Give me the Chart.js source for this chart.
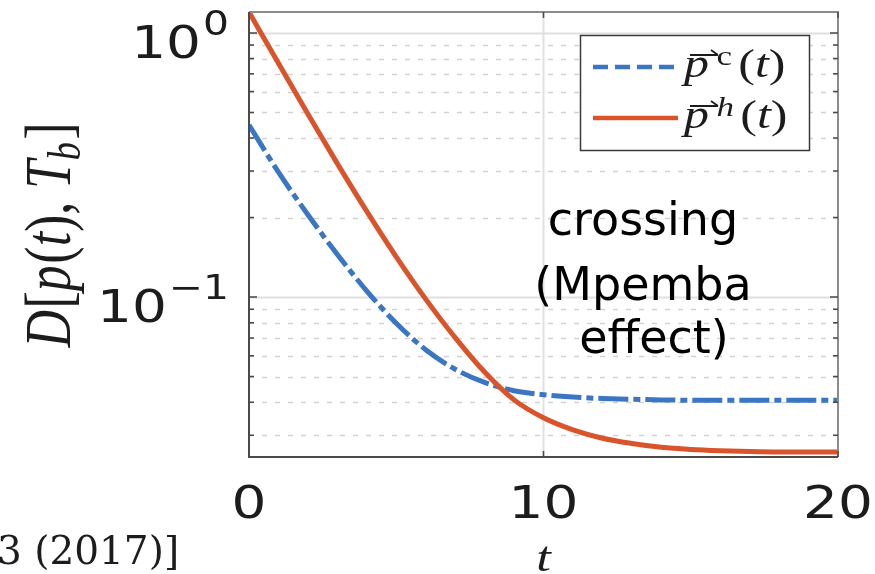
<!DOCTYPE html>
<html>
<head>
<meta charset="utf-8">
<script src="https://cdn.jsdelivr.net/npm/chart.js@4.4.1/dist/chart.umd.min.js"></script>
<style>
  html, body { margin: 0; padding: 0; background: #fff; }
  #wrap { width: 875px; height: 574px; position: relative; overflow: hidden; }
</style>
</head>
<body>
<div id="wrap"><canvas id="chart" width="875" height="574"></canvas></div>
<script>
// time axis and distance to the bath for the cold / hot initial states
const timeSteps = [0, 1, 2, 3, 4, 5, 6, 7, 8, 9, 10, 11, 12, 13, 14, 15, 16, 17, 18, 19, 20];
const coldDistance = [0.448, 0.297, 0.205, 0.145, 0.1054, 0.0796, 0.0632, 0.0533, 0.0475, 0.0442, 0.0427,
  0.0418, 0.0413, 0.041, 0.0408, 0.0407, 0.0407, 0.0407, 0.0407, 0.0407, 0.0407];
const hotDistance = [1.2, 0.767, 0.493, 0.32, 0.211, 0.142, 0.0982, 0.0702, 0.052, 0.0408, 0.0349,
  0.0314, 0.0292, 0.0279, 0.027, 0.0265, 0.0262, 0.026, 0.0259, 0.0259, 0.0259];

// axis ticks
const xTickValues = [0, 10, 20];
const xTickLabels = ['0', '10', '20'];
const yMajorValues = [1, 0.1];
const yTickExponents = ['0', '\u22121'];
const yGridValues = [0.03, 0.04, 0.05, 0.06, 0.07, 0.08, 0.09, 0.1,
  0.2, 0.3, 0.4, 0.5, 0.6, 0.7, 0.8, 0.9, 1];
const annotationLines = ['crossing', '(Mpemba', 'effect)'];

const BLUE = '#3b76c3';
const RED = '#d9532b';
const SERIF = '"Liberation Serif", "DejaVu Serif", serif';
const SANS = '"DejaVu Sans", sans-serif';

// draws a row of text pieces with different fonts, optionally stretched
function drawRuns(ctx, runs, x, y, opts = {}) {
  ctx.save();
  ctx.textAlign = 'left';
  ctx.textBaseline = 'alphabetic';
  let total = 0;
  const widths = runs.map(r => {
    ctx.font = r.font;
    const w = ctx.measureText(r.text).width + (r.gap || 0);
    total += w;
    return w;
  });
  let sx = opts.sx || 1;
  if (opts.fitWidth) sx = opts.fitWidth / total;
  ctx.translate(x, y);
  ctx.scale(sx, opts.sy || 1);
  let cx = opts.align === 'center' ? -total / 2 : opts.align === 'right' ? -total : 0;
  runs.forEach((r, i) => {
    ctx.font = r.font;
    ctx.fillText(r.text, cx, r.dy || 0);
    cx += widths[i];
  });
  ctx.restore();
  return total * sx;
}

// dotted minor grid, solid major grid
const gridPlugin = {
  id: 'logGrid',
  beforeDatasetsDraw(chart) {
    const { ctx, chartArea: a, scales: { x, y } } = chart;
    ctx.save();
    yGridValues.forEach(v => {
      const py = Math.round(y.getPixelForValue(v)) + 0.5;
      const major = yMajorValues.includes(v);
      ctx.strokeStyle = major ? '#e0e0e0' : '#d2d2d2';
      ctx.lineWidth = major ? 2 : 1.5;
      ctx.setLineDash(major ? [] : [5, 8]);
      ctx.beginPath();
      ctx.moveTo(a.left, py);
      ctx.lineTo(a.right, py);
      ctx.stroke();
    });
    ctx.setLineDash([]);
    ctx.strokeStyle = '#e0e0e0';
    ctx.lineWidth = 2;
    xTickValues.forEach(v => {
      const px = x.getPixelForValue(v);
      ctx.beginPath();
      ctx.moveTo(px, a.top);
      ctx.lineTo(px, a.bottom);
      ctx.stroke();
    });
    ctx.restore();
  }
};

const decorPlugin = {
  id: 'decor',
  afterDatasetsDraw(chart) {
    const { ctx, chartArea: a, scales: { x, y } } = chart;
    ctx.save();

    // axes box
    ctx.setLineDash([]);
    ctx.lineWidth = 2;
    ctx.strokeStyle = '#8c8c8c';
    ctx.beginPath();
    ctx.moveTo(a.left, a.top);
    ctx.lineTo(a.right, a.top);
    ctx.lineTo(a.right, a.bottom);
    ctx.stroke();
    ctx.strokeStyle = '#4a4a4a';
    ctx.beginPath();
    ctx.moveTo(a.left, a.top);
    ctx.lineTo(a.left, a.bottom);
    ctx.lineTo(a.right, a.bottom);
    ctx.stroke();

    // inner ticks
    ctx.lineWidth = 1.5;
    yGridValues.forEach(v => {
      const py = y.getPixelForValue(v);
      const len = yMajorValues.includes(v) ? 8 : 5;
      ctx.beginPath();
      ctx.moveTo(a.left, py);
      ctx.lineTo(a.left + len, py);
      ctx.moveTo(a.right, py);
      ctx.lineTo(a.right - len, py);
      ctx.stroke();
    });
    xTickValues.forEach(v => {
      const px = x.getPixelForValue(v);
      ctx.beginPath();
      ctx.moveTo(px, a.bottom);
      ctx.lineTo(px, a.bottom - 6);
      ctx.moveTo(px, a.top);
      ctx.lineTo(px, a.top + 6);
      ctx.stroke();
    });

    ctx.fillStyle = '#1c1c1c';

    // y tick labels 10^n
    yMajorValues.forEach((v, i) => {
      const py = y.getPixelForValue(v);
      const expW = drawRuns(ctx, [{ text: yTickExponents[i], font: '34px ' + SANS }],
        a.left - 20, py + 2, { align: 'right', sx: 1.2 });
      drawRuns(ctx, [{ text: '10', font: '45px ' + SANS }],
        a.left - 22 - expW, py + 25, { align: 'right', sx: 1.22 });
    });

    // x tick labels
    xTickValues.forEach((v, i) => {
      drawRuns(ctx, [{ text: xTickLabels[i], font: '45px ' + SANS }],
        x.getPixelForValue(v), a.bottom + 61, { align: 'center', sx: 1.22 });
    });

    // x title
    drawRuns(ctx, [{ text: 't', font: 'italic 42px ' + SERIF }],
      x.getPixelForValue(10), 571, { align: 'center', sx: 1.25 });

    // y title D[p(t), T_b]
    ctx.save();
    ctx.translate(70, 235);
    ctx.rotate(-Math.PI / 2);
    const it = 'italic 66px ' + SERIF, rm = '66px ' + SERIF;
    drawRuns(ctx, [
      { text: 'D', font: it, gap: 2 },
      { text: '[', font: rm },
      { text: 'p', font: it, gap: 2 },
      { text: '(', font: rm },
      { text: 't', font: it },
      { text: ')', font: rm },
      { text: ',', font: rm, gap: 16 },
      { text: 'T', font: it },
      { text: 'b', font: 'italic 46px ' + SERIF, dy: 10, gap: 3 },
      { text: ']', font: rm }
    ], 0, 0, { align: 'center', fitWidth: 225 });
    ctx.restore();

    // legend
    const lg = { left: 580, top: 35, right: 809, bottom: 150 };
    ctx.fillStyle = '#ffffff';
    ctx.fillRect(lg.left, lg.top, lg.right - lg.left, lg.bottom - lg.top);
    ctx.strokeStyle = '#3a3a3a';
    ctx.lineWidth = 1.5;
    ctx.strokeRect(lg.left + 0.5, lg.top + 0.5, lg.right - lg.left, lg.bottom - lg.top);

    const rows = [
      { color: BLUE, dash: [15, 7], sup: 'c', supFont: '28px ' + SERIF, lineY: 67, base: 77 },
      { color: RED, dash: [], sup: 'h', supFont: 'italic 28px ' + SERIF, lineY: 118, base: 128 }
    ];
    rows.forEach(r => {
      ctx.strokeStyle = r.color;
      ctx.lineWidth = 4.5;
      ctx.setLineDash(r.dash);
      ctx.beginPath();
      ctx.moveTo(593, r.lineY);
      ctx.lineTo(678, r.lineY);
      ctx.stroke();
      ctx.setLineDash([]);

      ctx.fillStyle = '#1c1c1c';
      drawRuns(ctx, [
        { text: 'p', font: 'italic 40px ' + SERIF, gap: 6 },
        { text: r.sup, font: r.supFont, dy: -12, gap: 5 },
        { text: '(', font: '40px ' + SERIF },
        { text: 't', font: 'italic 40px ' + SERIF },
        { text: ')', font: '40px ' + SERIF }
      ], 684, r.base, { sx: 1.25 });

      // vector arrow over p
      const ay = r.base - 22;
      ctx.strokeStyle = '#1c1c1c';
      ctx.lineWidth = 1.8;
      ctx.beginPath();
      ctx.moveTo(690, ay);
      ctx.lineTo(718, ay);
      ctx.moveTo(718, ay);
      ctx.lineTo(711, ay - 5);
      ctx.stroke();
    });

    // annotation at the crossing
    ctx.fillStyle = '#000000';
    const annX = [643, 643, 654];
    const annY = [235, 300, 353];
    annotationLines.forEach((line, i) => {
      drawRuns(ctx, [{ text: line, font: '46px ' + SANS }], annX[i], annY[i], { align: 'center' });
    });

    // reference fragment below the axes
    ctx.fillStyle = '#1c1c1c';
    drawRuns(ctx, [{ text: '3 (2017)]', font: '39px "DejaVu Serif", serif' }], -3, 564);

    ctx.restore();
  }
};

new Chart(document.getElementById('chart'), {
  type: 'line',
  data: {
    datasets: [
      {
        label: 'hot',
        data: timeSteps.map((t, i) => ({ x: t, y: hotDistance[i] })),
        borderColor: RED,
        borderWidth: 5,
        pointRadius: 0,
        cubicInterpolationMode: 'monotone',
        fill: false,
        order: 1
      },
      {
        label: 'cold',
        data: timeSteps.map((t, i) => ({ x: t, y: coldDistance[i] })),
        borderColor: BLUE,
        borderWidth: 5,
        borderDash: [30, 5, 7, 5],
        pointRadius: 0,
        cubicInterpolationMode: 'monotone',
        fill: false,
        order: 2
      }
    ]
  },
  options: {
    responsive: false,
    animation: false,
    devicePixelRatio: 1,
    layout: { padding: { left: 249, right: 37, top: 12, bottom: 117 } },
    scales: {
      x: { type: 'linear', min: 0, max: 20, display: false },
      y: { type: 'logarithmic', min: 0.0248, max: 1.2, display: false }
    },
    plugins: {
      legend: { display: false },
      tooltip: { enabled: false }
    }
  },
  plugins: [gridPlugin, decorPlugin]
});
</script>
</body>
</html>
